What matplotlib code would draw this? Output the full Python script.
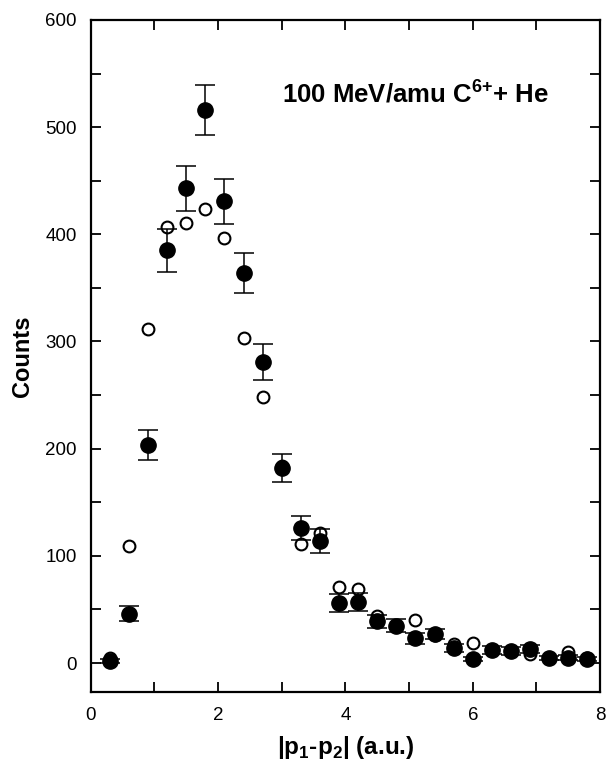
import matplotlib
matplotlib.use("Agg")
import matplotlib.pyplot as plt
from matplotlib.ticker import MultipleLocator

plt.rcParams['font.family'] = ['Liberation Sans', 'DejaVu Sans']
plt.rcParams['mathtext.fontset'] = 'custom'
plt.rcParams['mathtext.rm'] = 'Liberation Sans'
plt.rcParams['mathtext.bf'] = 'Liberation Sans:bold'

# momentum difference bins (a.u.)
dp = [0.3, 0.6, 0.9, 1.2, 1.5, 1.8, 2.1, 2.4, 2.7, 3.0, 3.3, 3.6, 3.9,
      4.2, 4.5, 4.8, 5.1, 5.4, 5.7, 6.0, 6.3, 6.6, 6.9, 7.2, 7.5, 7.8]

# measured counts (filled) and errors
counts_exp = [2, 46, 203, 385, 443, 516, 431, 364, 281, 182, 126, 114, 56,
              57, 39, 35, 23, 27, 14, 4, 12, 11, 13, 5, 5, 4]
err_exp = [2, 7, 14, 20, 21, 23, 21, 19, 17, 13, 11, 11, 8,
           8, 6, 6, 5, 5, 4, 2, 3.5, 3.5, 3.5, 2, 2.5, 2]

# calculation (open circles)
counts_calc = [5, 109, 312, 407, 411, 424, 397, 303, 248, 184, 111, 121, 71,
               69, 44, 35, 40, 26, 18, 19, 12, 11, 8, 5, 10, 5]

fig = plt.figure(figsize=(6.13, 7.68), dpi=100)
ax = fig.add_axes([0.148, 0.099, 0.831, 0.875])

ax.plot(dp, counts_calc, 'o', ms=8.5, mfc='white', mec='black', mew=1.5, zorder=2)
ax.errorbar(dp, counts_exp, yerr=err_exp, fmt='o', ms=11, mfc='black', mec='black',
            ecolor='black', elinewidth=1.1, capsize=7.5, capthick=1.1, zorder=3)

ax.set_xlim(0, 8)
ax.set_ylim(-27, 600)
ax.xaxis.set_major_locator(MultipleLocator(2))
ax.xaxis.set_minor_locator(MultipleLocator(1))
ax.yaxis.set_major_locator(MultipleLocator(100))
ax.yaxis.set_minor_locator(MultipleLocator(50))
ax.tick_params(which='both', direction='in', top=True, right=True,
               length=7, width=1.3, labelsize=13.5)
ax.tick_params(axis='y', which='major', pad=10)
ax.tick_params(axis='x', which='major', pad=11)
for s in ax.spines.values():
    s.set_linewidth(1.6)

ax.set_ylabel('Counts', fontsize=17, fontweight='bold', labelpad=8)
ax.set_xlabel(r'|p$_\mathbf{1}$-p$_\mathbf{2}$| (a.u.)', fontsize=17.5,
              fontweight='bold', labelpad=7)
ax.text(3.0, 532, r'100 MeV/amu C$^{\mathbf{6{+}}}$+ He', fontsize=18.5,
        fontweight='bold', va='center', ha='left')

fig.savefig('out.png', dpi=100)
